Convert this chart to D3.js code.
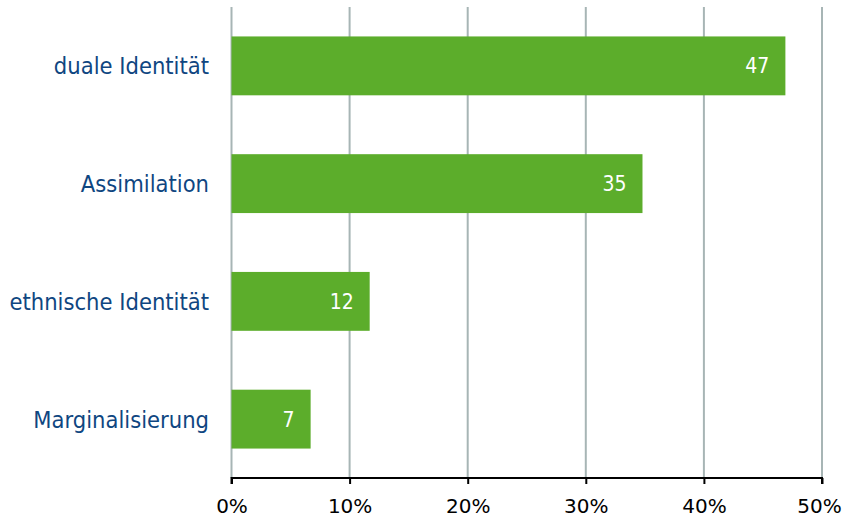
<!DOCTYPE html>
<html><head><meta charset="utf-8">
<script src="https://cdn.jsdelivr.net/npm/d3@7"></script>
<style>body{margin:0;background:#fff}svg{display:block}</style>
</head><body>
<svg id="chart" width="843" height="517"></svg>
<script>
const categories = ["duale Identität", "Assimilation", "ethnische Identität", "Marginalisierung"];
const values = [46.9, 34.8, 11.7, 6.7];
const valueLabels = ["47", "35", "12", "7"];
const tickValues = [0, 10, 20, 30, 40, 50];

(function () {
const svg = d3.select("#chart");
const mLeft = 231.5, mRight = 822, mTop = 7, mBottom = 478;
const fontC = "'DejaVu Sans Condensed', 'DejaVu Sans', sans-serif";
const font = "'DejaVu Sans', Verdana, sans-serif";

const x = d3.scaleLinear().domain([0, 50]).range([mLeft, mRight]);
const y = d3.scaleBand().domain(categories).range([mTop, mBottom]).paddingInner(0.5).paddingOuter(0.25);

// grid
svg.append("g").selectAll("line").data(tickValues).join("line")
  .attr("x1", d => x(d)).attr("x2", d => x(d))
  .attr("y1", mTop).attr("y2", mBottom)
  .attr("stroke", "#a7b5b5").attr("stroke-width", 2);

// bars
svg.append("g").selectAll("rect").data(categories).join("rect")
  .attr("x", x(0)).attr("y", d => y(d))
  .attr("width", (d, i) => x(values[i]) - x(0))
  .attr("height", y.bandwidth())
  .attr("fill", "#5cad2b");

// value labels
svg.append("g").selectAll("text").data(categories).join("text")
  .attr("x", (d, i) => x(values[i]) - 16)
  .attr("y", d => y(d) + y.bandwidth() / 2)
  .attr("dy", "0.36em")
  .attr("text-anchor", "end")
  .attr("fill", "#fff")
  .style("font-family", fontC).style("font-size", "21px")
  .text((d, i) => valueLabels[i]);

// category labels
svg.append("g").selectAll("text").data(categories).join("text")
  .attr("x", 209)
  .attr("y", d => y(d) + y.bandwidth() / 2)
  .attr("dy", "0.36em")
  .attr("text-anchor", "end")
  .attr("fill", "#0f4681")
  .style("font-family", fontC).style("font-size", "23.5px")
  .text(d => d);

// x axis
const ax = svg.append("g").attr("transform", `translate(0,${mBottom})`)
  .call(d3.axisBottom(x).tickValues(tickValues).tickFormat(d => d + "%").tickSize(6));
ax.select(".domain").attr("stroke", "#000").attr("stroke-width", 2).attr("d", `M${mLeft},6V0H${mRight}V6`);
ax.selectAll(".tick line").attr("stroke", "#000").attr("stroke-width", 2);
ax.selectAll(".tick text").attr("fill", "#000").attr("y", 34.5).attr("dy", 0)
  .attr("x", d => d === 50 ? -3 : 0)
  .style("font-family", font).style("font-size", "20px");
})();
</script>
</body></html>
